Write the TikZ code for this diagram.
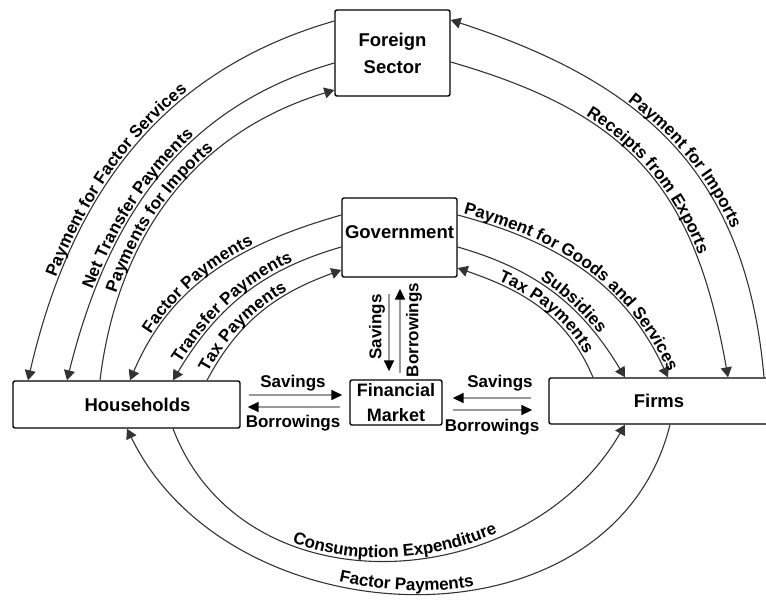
\documentclass[tikz,border=0pt]{standalone}
\usepackage{fontspec}
\setmainfont{Liberation Sans}
\usetikzlibrary{arrows.meta,decorations.text,calc}
\newcommand{\lbf}{\fontsize{17}{26}\selectfont\bfseries}
\newcommand{\bbf}{\fontsize{18.5}{27}\selectfont\bfseries}
\begin{document}
\begin{tikzpicture}[x=1pt,y=1pt,
  box/.style={draw, line width=1.4pt, rounded corners=2pt, inner sep=0pt, font=\bbf},
  flow/.style={line width=1.1pt, draw=black!80, -{Triangle[length=10pt,width=11pt]}},
  fin/.style={line width=1.6pt, draw=black!40, -{Triangle[length=11pt,width=10pt,color=black]}},
  lab/.style={font=\lbf, inner sep=0pt},
  arclab/.style 2 args={decorate, decoration={text along path, text={|\lbf|#1}, text align={left indent=#2}, raise=3pt}},
  arclabc/.style={decorate, decoration={text along path, text={|\lbf|#1}, text align=center, raise=3pt}},
]
\useasboundingbox (0,0) rectangle (766,-600);

% boxes
\node[box, minimum width=115pt, minimum height=86pt, align=center] (fs) at (392.5,-53) {Foreign\\Sector};
\node[box, minimum width=115pt, minimum height=79pt, text depth=10pt] (gov) at (399.5,-237.5) {Government};
\node[box, minimum width=92pt, minimum height=45pt, align=center, font=\fontsize{18}{25}\selectfont\bfseries] (fm) at (396,-402.5) {Financial\\Market};
\node[box, minimum width=227pt, minimum height=47pt] (hh) at (126.5,-404.5) {\hspace*{22pt}Households};
\node[box, minimum width=220pt, minimum height=46pt] (firms) at (659,-401) {Firms};

% foreign sector - households
\draw[flow] (fs.west |- 0,-21) to[out=196,in=77] (hh.north -| 28,0);
\path[arclab={Payment for Factor Services}{106pt}] (hh.north -| 28,0) to[out=77,in=196] (fs.west |- 0,-21);
\draw[flow] (fs.west |- 0,-63) to[out=196,in=76] (hh.north -| 67,0);
\path[arclab={Net Transfer Payments}{94pt}] (hh.north -| 67,0) to[out=76,in=196] (fs.west |- 0,-63);
\draw[flow] (hh.north -| 100,0) to[out=83,in=197] (fs.west |- 0,-90);
\path[arclab={Payments for Imports}{88pt}] (hh.north -| 100,0) to[out=83,in=197] (fs.west |- 0,-90);

% government - households
\draw[flow] (gov.west |- 0,-215) to[out=196,in=67] (hh.north -| 130,0);
\path[arclab={Factor Payments}{50pt}] (hh.north -| 130,0) to[out=67,in=196] (gov.west |- 0,-215);
\draw[flow] (gov.west |- 0,-247) to[out=196,in=59] (hh.north -| 173,0);
\path[arclab={Transfer Payments}{18pt}] (hh.north -| 173,0) to[out=59,in=196] (gov.west |- 0,-247);
\draw[flow] (hh.north -| 207,0) to[out=62,in=200] (gov.west |- 0,-270);
\path[arclab={Tax Payments}{7pt}] (hh.north -| 207,0) to[out=62,in=200] (gov.west |- 0,-270);

% government - firms
\draw[flow] (gov.east |- 0,-215) to[out=-15,in=115] (firms.north -| 668,0);
\path[arclab={Payment for Goods and Services}{5pt}] (gov.east |- 0,-215) to[out=-15,in=115] (firms.north -| 668,0);
\draw[flow] (gov.east |- 0,-247) to[out=-16,in=121] (firms.north -| 625,0);
\path[arclab={Subsidies}{88pt}] (gov.east |- 0,-247) to[out=-16,in=121] (firms.north -| 625,0);
\draw[flow] (firms.north -| 593,0) to[out=113,in=-19] (gov.east |- 0,-268);
\path[arclab={Tax Payments}{42pt}] (gov.east |- 0,-268) to[out=-19,in=113] (firms.north -| 593,0);

% foreign sector - firms
\draw[flow] (firms.north -| 764,0) to[out=95,in=-18,looseness=1.1] (fs.east |- 0,-20);
\path[arclab={Payment for Imports}{195pt}] (fs.east |- 0,-20) to[out=-18,in=95,looseness=1.1] (firms.north -| 764,0);
\draw[flow] (fs.east |- 0,-62) to[out=-16,in=100,looseness=1.15] (firms.north -| 728,0);
\path[arclab={Receipts from Exports}{145pt}] (fs.east |- 0,-62) to[out=-16,in=100,looseness=1.15] (firms.north -| 728,0);

% households - firms
\draw[flow] (hh.south -| 173,0) to[out=-69,in=240,looseness=1.12] (firms.south -| 625,0);
\path[arclabc={Consumption Expenditure}] (hh.south -| 173,0) to[out=-69,in=240,looseness=1.12] (firms.south -| 625,0);
\draw[flow] (firms.south -| 670,0) to[out=256,in=296,looseness=1.12] (hh.south -| 127,0);
\path[arclabc={Factor Payments}] (hh.south -| 127,0) to[out=296,in=256,looseness=1.12] (firms.south -| 670,0);

% financial market
\draw[fin, shorten <=8pt, shorten >=7pt] (hh.east |- 0,-395) -- (fm.west |- 0,-395);
\draw[fin, shorten <=9pt, shorten >=7pt] (fm.west |- 0,-407) -- (hh.east |- 0,-407);
\node[lab] (sv1) at (293,-383) {Savings};
\node[lab] (bw1) at (293,-423) {Borrowings};

\draw[fin, shorten <=17pt, shorten >=10pt] (firms.west |- 0,-398) -- (fm.east |- 0,-398);
\draw[fin, shorten <=10pt, shorten >=16pt] (fm.east |- 0,-410) -- (firms.west |- 0,-410);
\node[lab] (sv2) at (500,-383) {Savings};
\node[lab] (bw2) at (492,-427) {Borrowings};

\draw[fin, shorten <=16pt, shorten >=8pt] (gov.south -| 389,0) -- (fm.north -| 389,0);
\draw[fin, shorten <=6pt, shorten >=11pt] (fm.north -| 400,0) -- (gov.south -| 400,0);
\node[lab, rotate=90] (sv3) at (377,-327) {Savings};
\node[lab, rotate=90] (bw3) at (414,-330) {Borrowings};
\end{tikzpicture}
\end{document}
